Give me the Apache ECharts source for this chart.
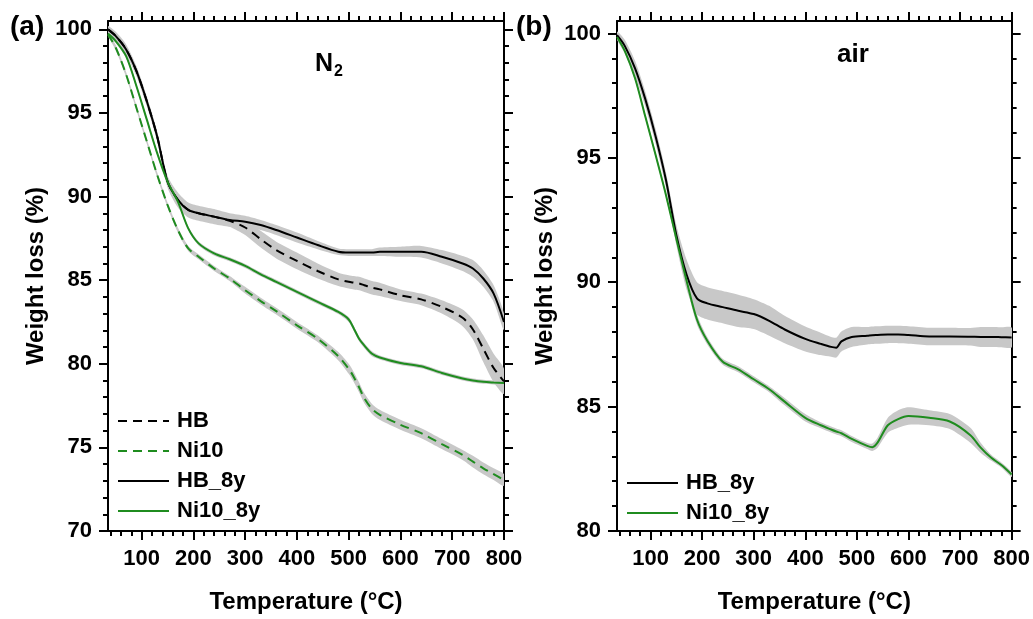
<!DOCTYPE html>
<html>
<head>
<meta charset="utf-8">
<script src="https://cdn.jsdelivr.net/npm/echarts@6/dist/echarts.min.js"></script>
<style>
  html, body { margin: 0; padding: 0; background: #fff; }
  #chart { width: 1033px; height: 619px; }
</style>
</head>
<body>
<div id="chart"></div>
<script>
// panel (a) N2
const tempA = [35, 50, 70, 90, 110, 130, 150, 170, 190, 210, 240, 270, 300, 330, 360, 400, 440, 480, 500, 510, 520, 530, 545, 560, 600, 640, 680, 720, 740, 760, 780, 800];
const hbA = [100.0, 99.6, 98.8, 97.5, 95.7, 93.6, 90.9, 89.8, 89.2, 89.0, 88.8, 88.55, 88.15, 87.45, 86.8, 86.15, 85.55, 85.05, 84.9, 84.85, 84.8, 84.7, 84.55, 84.45, 84.1, 83.85, 83.4, 82.75, 82.05, 80.9, 79.75, 78.95];
const hbSdA = [0.15, 0.2, 0.2, 0.2, 0.2, 0.2, 0.25, 0.3, 0.3, 0.3, 0.3, 0.35, 0.45, 0.5, 0.5, 0.5, 0.45, 0.4, 0.4, 0.4, 0.4, 0.4, 0.4, 0.4, 0.35, 0.35, 0.4, 0.5, 0.6, 0.8, 0.85, 0.75];
const ni10A = [99.7, 98.9, 97.3, 95.3, 93.3, 91.3, 89.5, 88.0, 86.9, 86.4, 85.7, 85.1, 84.4, 83.75, 83.15, 82.3, 81.5, 80.45, 79.7, 79.2, 78.6, 77.95, 77.3, 76.95, 76.35, 75.85, 75.2, 74.55, 74.15, 73.75, 73.4, 73.05];
const ni10SdA = [0.1, 0.15, 0.15, 0.15, 0.15, 0.15, 0.15, 0.15, 0.15, 0.15, 0.15, 0.15, 0.2, 0.2, 0.2, 0.2, 0.2, 0.25, 0.3, 0.3, 0.3, 0.3, 0.3, 0.3, 0.3, 0.3, 0.3, 0.3, 0.35, 0.35, 0.35, 0.35];
const hb8yA = [100.0, 99.6, 98.8, 97.5, 95.7, 93.6, 90.9, 89.8, 89.2, 89.0, 88.8, 88.6, 88.5, 88.3, 88.0, 87.55, 87.1, 86.7, 86.65, 86.65, 86.65, 86.65, 86.65, 86.7, 86.7, 86.7, 86.4, 86.0, 85.7, 85.1, 84.2, 82.5];
const hb8ySdA = [0.2, 0.25, 0.3, 0.3, 0.3, 0.3, 0.35, 0.45, 0.45, 0.45, 0.45, 0.4, 0.35, 0.3, 0.3, 0.3, 0.25, 0.2, 0.2, 0.2, 0.2, 0.2, 0.2, 0.25, 0.3, 0.35, 0.4, 0.45, 0.5, 0.5, 0.5, 0.5];
const ni108yA = [99.75, 99.3, 98.4, 96.6, 94.6, 92.6, 90.9, 89.7, 88.1, 87.2, 86.6, 86.25, 85.85, 85.35, 84.9, 84.3, 83.7, 83.1, 82.65, 82.1, 81.5, 81.1, 80.6, 80.38, 80.05, 79.85, 79.45, 79.12, 79.0, 78.92, 78.88, 78.85];
const ni108ySdA = [0.1, 0.12, 0.12, 0.12, 0.12, 0.12, 0.12, 0.12, 0.12, 0.12, 0.12, 0.12, 0.12, 0.12, 0.12, 0.12, 0.12, 0.12, 0.15, 0.15, 0.15, 0.15, 0.15, 0.12, 0.12, 0.12, 0.12, 0.12, 0.12, 0.12, 0.12, 0.12];

// panel (b) air
const tempB = [35, 50, 70, 90, 110, 130, 150, 170, 190, 210, 240, 270, 300, 330, 360, 400, 430, 450, 460, 470, 490, 520, 530, 540, 560, 580, 600, 640, 680, 720, 740, 760, 780, 800];
const hb8yB = [99.93, 99.5, 98.6, 97.35, 95.85, 94.1, 91.9, 90.3, 89.35, 89.15, 89.0, 88.85, 88.72, 88.45, 88.1, 87.72, 87.52, 87.4, 87.37, 87.62, 87.8, 87.85, 87.87, 87.88, 87.9, 87.9, 87.88, 87.82, 87.82, 87.81, 87.8, 87.8, 87.79, 87.78];
const hb8ySdB = [0.15, 0.25, 0.3, 0.3, 0.3, 0.3, 0.4, 0.6, 0.65, 0.65, 0.65, 0.65, 0.6, 0.6, 0.55, 0.5, 0.45, 0.4, 0.4, 0.4, 0.4, 0.35, 0.35, 0.35, 0.35, 0.35, 0.35, 0.35, 0.35, 0.35, 0.4, 0.4, 0.4, 0.4];
const ni108yB = [99.86, 99.3, 98.2, 96.65, 95.1, 93.5, 91.75, 90.05, 88.5, 87.65, 86.8, 86.5, 86.1, 85.7, 85.2, 84.55, 84.25, 84.08, 84.0, 83.93, 83.7, 83.42, 83.37, 83.55, 84.25, 84.5, 84.62, 84.55, 84.4, 83.85, 83.35, 82.95, 82.65, 82.27];
const ni108ySdB = [0.1, 0.1, 0.1, 0.1, 0.1, 0.1, 0.15, 0.2, 0.2, 0.15, 0.12, 0.12, 0.12, 0.12, 0.15, 0.15, 0.12, 0.12, 0.12, 0.12, 0.12, 0.12, 0.15, 0.2, 0.3, 0.35, 0.35, 0.3, 0.3, 0.3, 0.2, 0.12, 0.1, 0.1];

const xMajor = [100, 200, 300, 400, 500, 600, 700, 800];
const xMinor = [40, 60, 80, 120, 140, 160, 180, 220, 240, 260, 280, 320, 340, 360, 380, 420, 440, 460, 480, 520, 540, 560, 580, 620, 640, 660, 680, 720, 740, 760, 780];
const yMajorA = [70, 75, 80, 85, 90, 95, 100];
const yMajorB = [80, 85, 90, 95, 100];

const BLACK = '#000';
const GREEN = '#1f8c1f';
const BAND = '#c8c8c8';
const FONT = 'Liberation Sans, Arial, sans-serif';

function minorOf(lo, hi, step) {
  const out = [];
  for (let v = lo + 1; v < hi; v++) if (v % step !== 0) out.push(v);
  return out;
}

const tickStyle = { color: BLACK, width: 2 };
const labelStyle = { color: BLACK, fontSize: 22, fontWeight: 'bold', fontFamily: FONT };
const nameStyle = { color: BLACK, fontSize: 24, fontWeight: 'bold', fontFamily: FONT };

function xAxes(gi) {
  const base = { gridIndex: gi, type: 'value', min: 35, max: 800, splitLine: { show: false } };
  return [
    Object.assign({}, base, {
      position: 'bottom',
      axisLine: { show: true, onZero: false, lineStyle: tickStyle },
      axisTick: { show: true, customValues: xMajor, length: 9, lineStyle: tickStyle },
      axisLabel: { show: true, customValues: xMajor, margin: 17, ...labelStyle },
      name: 'Temperature (°C)', nameLocation: 'middle', nameGap: 59, nameTextStyle: nameStyle
    }),
    Object.assign({}, base, {
      position: 'bottom',
      axisLine: { show: false, onZero: false },
      axisTick: { show: true, customValues: xMinor, length: 5, lineStyle: tickStyle },
      axisLabel: { show: false }
    }),
    Object.assign({}, base, {
      position: 'top',
      axisLine: { show: true, onZero: false, lineStyle: tickStyle },
      axisTick: { show: true, customValues: xMajor, length: 9, lineStyle: tickStyle },
      axisLabel: { show: false }
    }),
    Object.assign({}, base, {
      position: 'top',
      axisLine: { show: false, onZero: false },
      axisTick: { show: true, customValues: xMinor, length: 5, lineStyle: tickStyle },
      axisLabel: { show: false }
    })
  ];
}

function yAxes(gi, min, major) {
  const base = { gridIndex: gi, type: 'value', min: min, max: 100.5, splitLine: { show: false } };
  const minor = minorOf(min, 100, 5);
  return [
    Object.assign({}, base, {
      position: 'left',
      axisLine: { show: true, onZero: false, lineStyle: tickStyle },
      axisTick: { show: true, customValues: major, length: 9, lineStyle: tickStyle },
      axisLabel: { show: true, customValues: major, margin: 16, ...labelStyle },
      name: 'Weight loss (%)', nameLocation: 'middle', nameGap: 60, nameTextStyle: nameStyle
    }),
    Object.assign({}, base, {
      position: 'left',
      axisLine: { show: false, onZero: false },
      axisTick: { show: true, customValues: minor, length: 5, lineStyle: tickStyle },
      axisLabel: { show: false }
    }),
    Object.assign({}, base, {
      position: 'right',
      axisLine: { show: true, onZero: false, lineStyle: tickStyle },
      axisTick: { show: true, customValues: major, length: 9, lineStyle: tickStyle },
      axisLabel: { show: false }
    }),
    Object.assign({}, base, {
      position: 'right',
      axisLine: { show: false, onZero: false },
      axisTick: { show: true, customValues: minor, length: 5, lineStyle: tickStyle },
      axisLabel: { show: false }
    })
  ];
}

// gray mean ± sd band, drawn as one polygon through the axes' coord()
function band(xs, mean, sd, xi, yi) {
  const rows = xs.map((t, i) => [t, +(mean[i] - sd[i]).toFixed(3), +(mean[i] + sd[i]).toFixed(3)]);
  return {
    type: 'custom', xAxisIndex: xi, yAxisIndex: yi, silent: true, z: 1, clip: true,
    data: rows,
    encode: { x: 0, y: [1, 2] },
    renderItem: function (params, api) {
      if (params.dataIndex !== 0) return null;
      const upper = rows.map(r => api.coord([r[0], r[2]]));
      const lower = rows.map(r => api.coord([r[0], r[1]])).reverse();
      return {
        type: 'polygon',
        shape: { points: upper.concat(lower), smooth: 0.25 },
        style: { fill: BAND, stroke: null }
      };
    }
  };
}

function curve(name, xs, ys, color, dashed, xi, yi) {
  return {
    name: name, type: 'line', xAxisIndex: xi, yAxisIndex: yi, symbol: 'none', smooth: 0.3, z: 3,
    data: xs.map((t, i) => [t, ys[i]]),
    lineStyle: { color: color, width: 2, type: dashed ? [9, 6] : 'solid' },
    itemStyle: { color: color }
  };
}

const legendBase = {
  orient: 'vertical', itemWidth: 51, itemHeight: 14, itemGap: 8, padding: 0, selectedMode: false,
  itemStyle: { opacity: 0 },
  textStyle: { fontSize: 22, fontWeight: 'bold', fontFamily: FONT, color: BLACK, padding: [0, 0, 0, 3] }
};

const chart = echarts.init(document.getElementById('chart'));

const option = {
  animation: false,
  backgroundColor: '#fff',
  grid: [
    { left: 108, top: 21, width: 396, height: 514 },
    { left: 617, top: 21, width: 396, height: 514 }
  ],
  xAxis: xAxes(0).concat(xAxes(1)),
  yAxis: yAxes(0, 70, yMajorA).concat(yAxes(1, 80, yMajorB)),
  title: [
    { text: '(a)', left: 10, top: 13, padding: 0, textStyle: { fontSize: 28, fontWeight: 'bold', fontFamily: FONT, color: BLACK } },
    { text: '(b)', left: 516, top: 13, padding: 0, textStyle: { fontSize: 28, fontWeight: 'bold', fontFamily: FONT, color: BLACK } },
    {
      text: '{n|N}{s|2}', left: 315, top: 48, padding: 0,
      textStyle: {
        rich: {
          n: { fontSize: 25, fontWeight: 'bold', fontFamily: FONT, color: BLACK },
          s: { fontSize: 16, fontWeight: 'bold', fontFamily: FONT, color: BLACK, padding: [16, 0, 0, 1] }
        }
      }
    },
    { text: 'air', left: 837, top: 42, padding: 0, textStyle: { fontSize: 26, fontWeight: 'bold', fontFamily: FONT, color: BLACK } }
  ],
  legend: [
    Object.assign({}, legendBase, { data: ['HB', 'Ni10', 'HB_8y', 'Ni10_8y'], left: 117, top: 410 }),
    Object.assign({}, legendBase, { data: ['HB_8y', 'Ni10_8y'], left: 626, top: 472 })
  ],
  series: [
    band(tempA, hbA, hbSdA, 0, 0),
    band(tempA, ni10A, ni10SdA, 0, 0),
    band(tempA, hb8yA, hb8ySdA, 0, 0),
    band(tempA, ni108yA, ni108ySdA, 0, 0),
    band(tempB, hb8yB, hb8ySdB, 4, 4),
    band(tempB, ni108yB, ni108ySdB, 4, 4),
    curve('HB', tempA, hbA, BLACK, true, 0, 0),
    curve('Ni10', tempA, ni10A, GREEN, true, 0, 0),
    curve('HB_8y', tempA, hb8yA, BLACK, false, 0, 0),
    curve('Ni10_8y', tempA, ni108yA, GREEN, false, 0, 0),
    curve('HB_8y', tempB, hb8yB, BLACK, false, 4, 4),
    curve('Ni10_8y', tempB, ni108yB, GREEN, false, 4, 4)
  ]
};

chart.setOption(option);
</script>
</body>
</html>
